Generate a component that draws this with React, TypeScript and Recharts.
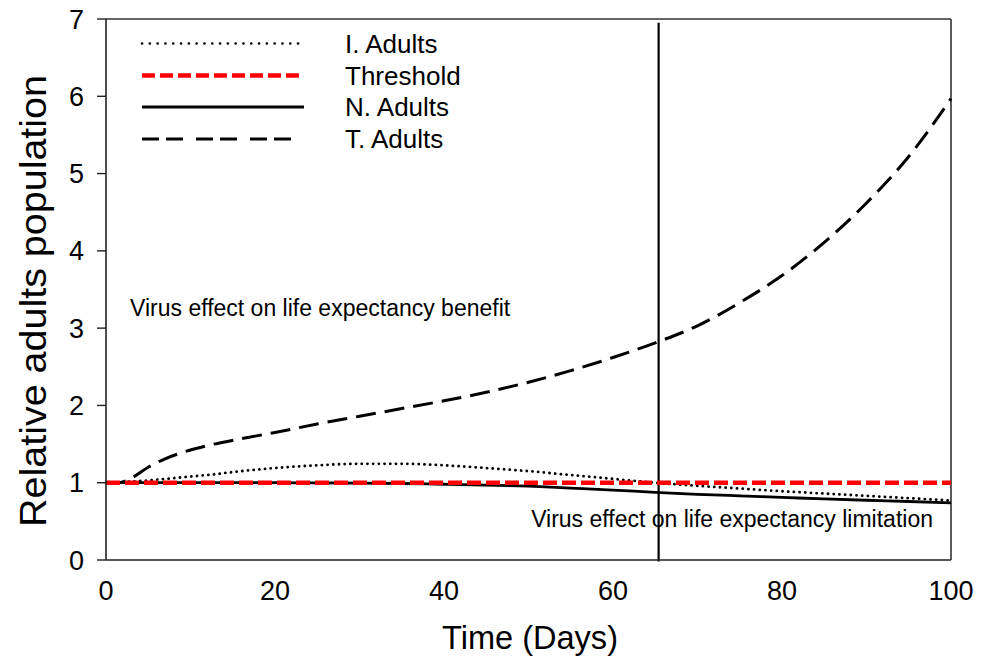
import React from 'react';
import { LineChart, Line, XAxis, YAxis, ReferenceLine, Customized } from 'recharts';

// ---- data ----
const days = [0, 1.5, 3, 5, 7, 9, 12, 16, 20, 25, 30, 35, 40, 45, 50, 55, 60, 65, 70, 75, 80, 85, 90, 95, 100];
const iAdults = [1.0, 1.005, 1.015, 1.03, 1.05, 1.07, 1.1, 1.15, 1.19, 1.225, 1.245, 1.245, 1.225, 1.19, 1.15, 1.1, 1.05, 1.0, 0.96, 0.925, 0.89, 0.86, 0.83, 0.8, 0.77];
const threshold = [1, 1, 1, 1, 1, 1, 1, 1, 1, 1, 1, 1, 1, 1, 1, 1, 1, 1, 1, 1, 1, 1, 1, 1, 1];
const nAdults = [1, 1, 1, 1, 1, 1, 1, 1, 1, 0.998, 0.995, 0.99, 0.98, 0.97, 0.955, 0.93, 0.905, 0.875, 0.85, 0.83, 0.81, 0.79, 0.773, 0.757, 0.74];
const tAdults = [1.0, 1.0, 1.06, 1.2, 1.31, 1.39, 1.48, 1.57, 1.65, 1.76, 1.86, 1.96, 2.06, 2.17, 2.3, 2.45, 2.62, 2.81, 3.03, 3.33, 3.68, 4.11, 4.62, 5.22, 5.97];

const xTicks = [0, 20, 40, 60, 80, 100];
const yTicks = [0, 1, 2, 3, 4, 5, 6, 7];
const seriesNames = ['I. Adults', 'Threshold', 'N. Adults', 'T. Adults'];
const limitDay = 65.4;
const annotations = ['Virus effect on life expectancy benefit', 'Virus effect on life expectancy limitation'];
const xLabel = 'Time (Days)';
const yLabel = 'Relative adults population';

const data = days.map((d, i) => ({ day: d, I: iAdults[i], Th: threshold[i], N: nAdults[i], T: tAdults[i] }));

const FONT = '"Liberation Sans", Arial, sans-serif';

const lineStyles: Record<string, any> = {
  I: { stroke: '#000', strokeWidth: 2.8, strokeDasharray: '0.1 5.6', strokeLinecap: 'round' },
  Th: { stroke: '#ff0000', strokeWidth: 4.5, strokeDasharray: '14 5' },
  N: { stroke: '#000', strokeWidth: 2.8 },
  T: { stroke: '#000', strokeWidth: 3, strokeDasharray: '20 9' },
};
const legendKeys = ['I', 'Th', 'N', 'T'];
const legendDash: Record<string, any> = {
  I: { strokeDasharray: '0.1 7.7', strokeWidth: 2.6, strokeLinecap: 'round' },
  Th: { strokeDasharray: '13 5', strokeWidth: 4.5 },
  N: { strokeWidth: 3 },
  T: { strokeDasharray: '17 7 17 13', strokeWidth: 3 },
};

const LegendAndNotes = () => {
  const rowsY = [43.5, 75.5, 107, 139];
  return (
    <g>
      {legendKeys.map((k, i) => (
        <g key={k}>
          <line x1={142} x2={304} y1={rowsY[i]} y2={rowsY[i]} stroke={lineStyles[k].stroke} {...legendDash[k]} />
          <text x={345} y={rowsY[i]} dy="0.36em" fontFamily={FONT} fontSize={26} fill="#000">
            {seriesNames[i]}
          </text>
        </g>
      ))}
      <text x={130} y={316} fontFamily={FONT} fontSize={23} fill="#000">{annotations[0]}</text>
      <text x={933} y={527} textAnchor="end" fontFamily={FONT} fontSize={23} fill="#000">{annotations[1]}</text>
      <text x={530} y={649} textAnchor="middle" fontFamily={FONT} fontSize={33} textLength={176} lengthAdjust="spacingAndGlyphs" fill="#000">{xLabel}</text>
      <text x={0} y={0} transform="translate(46,301) rotate(-90)" textAnchor="middle" fontFamily={FONT} fontSize={36} textLength={452} lengthAdjust="spacingAndGlyphs" fill="#000">{yLabel}</text>
    </g>
  );
};

export default function App() {
  return (
    <div style={{ position: 'absolute', left: 0, top: 0, width: 990, height: 659, background: '#fff' }}>
      <LineChart width={990} height={659} data={data} margin={{ top: 19, right: 39, left: 0, bottom: 0 }}>
        <XAxis
          dataKey="day"
          type="number"
          domain={[0, 100]}
          ticks={xTicks}
          height={99}
          tickLine={false}
          tickSize={0}
          tickMargin={21}
          axisLine={{ stroke: '#222', strokeWidth: 1.6 }}
          tick={{ fill: '#000', fontSize: 27, fontFamily: FONT }}
        />
        <YAxis
          type="number"
          domain={[0, 7]}
          ticks={yTicks}
          width={106}
          tickSize={9}
          tickMargin={13}
          axisLine={{ stroke: '#222', strokeWidth: 1.6 }}
          tickLine={{ stroke: '#222', strokeWidth: 1.4 }}
          tick={{ fill: '#000', fontSize: 27, fontFamily: FONT }}
          interval={0}
        />
        <ReferenceLine y={7} stroke="#333" strokeWidth={1.6} />
        <ReferenceLine x={100} stroke="#333" strokeWidth={1.6} />
        <ReferenceLine
          segment={[{ x: limitDay, y: 6.95 }, { x: limitDay, y: -0.02 }]}
          stroke="#000"
          strokeWidth={2.2}
          ifOverflow="visible"
        />
        <Line dataKey="N" type="monotone" dot={false} isAnimationActive={false} {...lineStyles.N} />
        <Line dataKey="I" type="monotone" dot={false} isAnimationActive={false} {...lineStyles.I} />
        <Line dataKey="T" type="monotone" dot={false} isAnimationActive={false} {...lineStyles.T} />
        <Line dataKey="Th" type="linear" dot={false} isAnimationActive={false} {...lineStyles.Th} />
        <Customized component={LegendAndNotes} />
      </LineChart>
    </div>
  );
}
